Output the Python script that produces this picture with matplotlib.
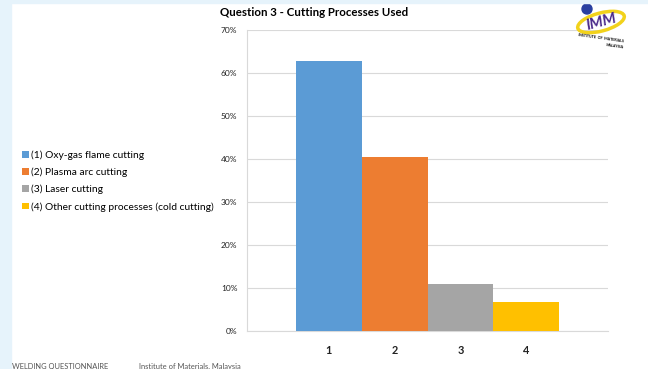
import matplotlib
matplotlib.use("Agg")
import matplotlib.pyplot as plt
from matplotlib.patches import Rectangle, Ellipse, Circle
from matplotlib.ticker import PercentFormatter

plt.rcParams['font.family'] = ['Lato', 'DejaVu Sans']

# data
categories = ['1', '2', '3', '4']
labels = ['(1) Oxy-gas flame cutting', '(2) Plasma arc cutting',
          '(3) Laser cutting', '(4) Other cutting processes (cold cutting)']
values = [62.7, 40.5, 11.0, 6.8]
colors = ['#5b9bd5', '#ed7d31', '#a5a5a5', '#ffc000']

fig = plt.figure(figsize=(6.48, 3.69), dpi=100)

# slide background bands
fig.patches.append(Rectangle((0, 0), 11/648, 1, transform=fig.transFigure,
                             color='#e6f3fb', zorder=0))
fig.patches.append(Rectangle((0, 1 - 3/369), 1, 3/369, transform=fig.transFigure,
                             color='#e6f3fb', zorder=0))

ax = fig.add_axes([247/648, 1 - 331/369, 361/648, 301/369])
x = list(range(len(categories)))
bars = ax.bar(x, values, width=1.0, color=colors, zorder=3)
ax.set_xlim(-1.235, 4.235)
ax.set_ylim(0, 70)
ax.set_yticks(range(0, 71, 10))
ax.yaxis.set_major_formatter(PercentFormatter(decimals=0))
ax.set_xticks(x)
ax.set_xticklabels(categories, fontsize=7.8, fontweight='bold', color='#222222')
ax.tick_params(axis='y', labelsize=6, labelcolor='#222222', length=0, pad=7)
ax.tick_params(axis='x', length=0, pad=10)
ax.grid(axis='y', color='#d9d9d9', linewidth=0.8, zorder=0)
for s in ['top', 'right']:
    ax.spines[s].set_visible(False)
ax.spines['left'].set_color('#d9d9d9')
ax.spines['bottom'].set_color('#d9d9d9')

fig.text(314/648, 1 - 12/369, 'Question 3 - Cutting Processes Used',
         ha='center', va='center', fontsize=8.3, fontweight='bold')

leg = fig.legend(bars, labels, loc='center left', bbox_to_anchor=(22/648, 1 - 181/369),
                 frameon=False, fontsize=7.4, handlelength=0.65, handleheight=0.65,
                 handletextpad=0.25, labelspacing=0.75, borderaxespad=0,
                 borderpad=0)

fig.text(12/648, 1 - 366/369, 'WELDING QUESTIONNAIRE', fontsize=5.4,
         color='#555555', va='center')
fig.text(139/648, 1 - 366/369, 'Institute of Materials, Malaysia', fontsize=5.4,
         color='#555555', va='center')

# rough logo
lax = fig.add_axes([565/648, 1 - 52/369, 70/648, 50/369])
lax.set_xlim(0, 70)
lax.set_ylim(0, 50)
lax.axis('off')
lax.add_patch(Ellipse((36, 30), 48, 18, angle=15, fill=False, ec='#f2d21b', lw=2.5))
lax.add_patch(Circle((22, 43), 5, color='#2a3fa0'))
lax.text(36, 30, 'IMM', ha='center', va='center', fontsize=11, fontweight='bold',
         color='#4a2a8a', fontstyle='italic', rotation=15)
lax.text(36, 14, 'INSTITUTE  OF  MATERIALS', ha='center', va='center', fontsize=2.6,
         rotation=-8, fontweight='bold')
lax.text(50, 6, 'MALAYSIA', ha='center', va='center', fontsize=2.6,
         rotation=-8, fontweight='bold')

fig.savefig('out.png', dpi=100)
